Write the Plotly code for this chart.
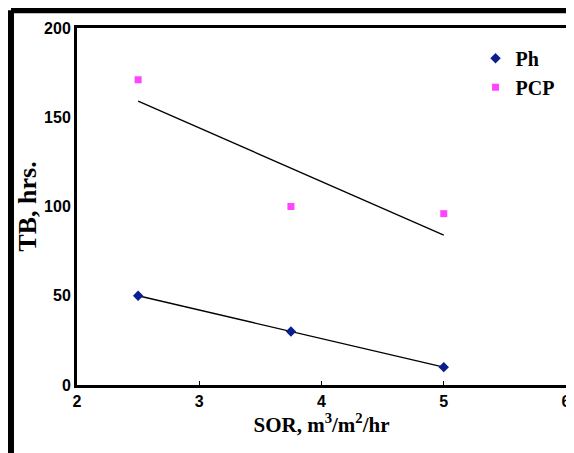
import plotly.graph_objects as go

sor = [2.5, 3.75, 5]
ph = [50, 30, 10]
pcp = [171, 100, 96]
ph_fit = [50, 10]
pcp_fit = [159, 84]
fit_x = [2.5, 5]

fig = go.Figure()
fig.add_trace(go.Scatter(x=fit_x, y=pcp_fit, mode="lines", line=dict(color="black", width=1.3), showlegend=False))
fig.add_trace(go.Scatter(x=sor, y=ph, mode="lines", line=dict(color="black", width=1.3), showlegend=False))
fig.add_trace(go.Scatter(x=sor, y=ph, mode="markers", name="Ph",
                         marker=dict(symbol="diamond", color="#0a1f8f", size=8)))
fig.add_trace(go.Scatter(x=sor, y=pcp, mode="markers", name="PCP",
                         marker=dict(symbol="square", color="#ff44ff", size=7)))

fig.update_layout(
    width=566, height=445, plot_bgcolor="white", paper_bgcolor="white",
    margin=dict(l=69, r=8, t=20, b=68, autoexpand=False),
    legend=dict(x=0.815, y=0.97, xanchor="left", yanchor="top", bgcolor="rgba(0,0,0,0)",
                font=dict(family="Liberation Serif", size=20, color="black", weight="bold"),
                itemwidth=30, tracegroupgap=0),
    shapes=[
        dict(type="line", xref="paper", yref="paper", x0=-0.135, x1=-0.135, y0=-0.25, y1=1.05,
             line=dict(color="black", width=6)),
        dict(type="line", xref="paper", yref="paper", x0=-0.135, x1=1.03, y0=1.05, y1=1.05,
             line=dict(color="black", width=6)),
    ],
)
fig.update_xaxes(range=[2, 6], tickvals=[2, 3, 4, 5, 6], showgrid=False, zeroline=False,
                 showline=True, linecolor="black", linewidth=3, mirror=True, automargin=False,
                 ticks="inside", ticklen=4, tickcolor="black",
                 tickfont=dict(family="Liberation Sans", size=16, color="black", weight="bold"),
                 title=dict(text="SOR, m<sup>3</sup>/m<sup>2</sup>/hr", standoff=2,
                            font=dict(family="Liberation Serif", size=21, color="black", weight="bold")))
fig.update_yaxes(range=[0, 200], tickvals=[0, 50, 100, 150, 200], showgrid=False, zeroline=False,
                 showline=True, linecolor="black", linewidth=3, mirror=True, automargin=False,
                 ticks="", ticklen=0,
                 tickfont=dict(family="Liberation Sans", size=16, color="black", weight="bold"),
                 title=dict(text="TB, hrs.", standoff=0,
                            font=dict(family="Liberation Serif", size=26, color="black", weight="bold")))
fig.write_html("out.html")
